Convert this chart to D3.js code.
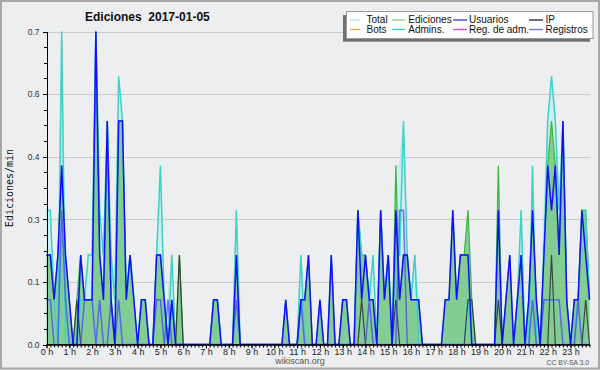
<!DOCTYPE html>
<html><head><meta charset="utf-8">
<script src="https://cdn.jsdelivr.net/npm/d3@7"></script>
<style>body{margin:0;background:#edeef0;}svg{display:block}</style>
</head><body><svg id="c" width="600" height="370"></svg>
<script>
// Edits per minute, 10-minute bins (6 per hour, 144 per day)
const hourLabels = ["0 h","1 h","2 h","3 h","4 h","5 h","6 h","7 h","8 h","9 h","10 h","11 h","12 h","13 h","14 h","15 h","16 h","17 h","18 h","19 h","20 h","21 h","22 h","23 h"];
const yTickValues = [0, 0.14, 0.28, 0.42, 0.56, 0.7];
const total = [
 0.3,0.3,0.1,0.2,0.7,0.2, 0.1,0,0.1,0.2,0.1,0.2, 0.2,0.7,0.3,0.2,0.5,0.2, 0.1,0.6,0.5,0.1,0.2,0.1,
 0,0.1,0.1,0,0,0.2, 0.4,0.1,0.1,0.2,0,0.2, 0,0,0,0,0,0, 0,0,0.1,0.1,0,0,
 0,0,0.3,0,0,0, 0,0,0,0,0,0, 0,0,0,0.1,0,0, 0,0.2,0.1,0.2,0,0,
 0.1,0,0,0.2,0,0, 0.1,0.1,0,0,0.3,0.2, 0.2,0.1,0.2,0,0.3,0.1, 0.2,0,0.4,0.4,0.5,0.2,
 0.1,0.2,0.1,0,0,0, 0,0,0,0.1,0.1,0.3, 0.1,0.2,0.2,0.3,0.1,0, 0,0,0,0,0,0.4,
 0,0.1,0.2,0,0.1,0.3, 0,0.1,0.4,0.1,0,0.3, 0.5,0.6,0.5,0.3,0.5,0.1, 0,0.1,0.1,0.3,0.3,0.1];
const ediciones = [
 0.2,0.2,0.1,0.2,0.4,0.2, 0.1,0,0.1,0.2,0.1,0.1, 0.1,0.7,0.2,0.1,0.5,0.1, 0,0.5,0.5,0.1,0.2,0.1,
 0,0.1,0.1,0,0,0.2, 0.2,0.1,0,0.1,0,0.2, 0,0,0,0,0,0, 0,0,0.1,0.1,0,0,
 0,0,0.2,0,0,0, 0,0,0,0,0,0, 0,0,0,0.1,0,0, 0,0.1,0.1,0.2,0,0,
 0.1,0,0,0.2,0,0, 0.1,0.1,0,0,0.3,0.2, 0.2,0.1,0.1,0,0.3,0.1, 0.2,0,0.4,0.1,0.2,0.2,
 0.1,0.1,0.1,0,0,0, 0,0,0,0.1,0.1,0.3, 0.1,0.2,0.2,0.3,0.1,0, 0,0,0,0,0,0.4,
 0,0.1,0.2,0,0.1,0.2, 0,0.1,0.3,0.1,0,0.2, 0.4,0.5,0.4,0.2,0.5,0.1, 0,0.1,0.1,0.3,0.3,0.1];
const usuarios = [
 0.2,0.2,0.1,0.2,0.4,0.2, 0.1,0,0,0.2,0.1,0.1, 0.1,0.7,0.2,0.1,0.5,0.1, 0,0.5,0.5,0.1,0.2,0.1,
 0,0.1,0.1,0,0,0.2, 0.2,0.1,0,0.1,0,0, 0,0,0,0,0,0, 0,0,0.1,0.1,0,0,
 0,0,0.2,0,0,0, 0,0,0,0,0,0, 0,0,0,0.1,0,0, 0,0.1,0.1,0.2,0,0,
 0.1,0,0,0.2,0,0, 0.1,0.1,0,0,0.3,0.1, 0.2,0.1,0.1,0,0.3,0.1, 0.2,0,0.3,0.1,0.2,0.2,
 0.1,0.1,0.1,0,0,0, 0,0,0,0.1,0.1,0.3, 0.1,0.2,0.2,0.2,0,0, 0,0,0,0,0,0.3,
 0,0.1,0.2,0,0.1,0.2, 0,0.1,0.3,0.1,0,0.2, 0.4,0.3,0.4,0.2,0.5,0.1, 0,0.1,0.1,0.3,0.2,0.1];
const ip = [
 0,0,0,0,0,0, 0,0,0.1,0,0,0, 0,0,0,0,0,0, 0,0,0,0,0,0,
 0,0,0,0,0,0, 0,0,0,0,0,0.2, 0,0,0,0,0,0, 0,0,0,0,0,0,
 0,0,0,0,0,0, 0,0,0,0,0,0, 0,0,0,0,0,0, 0,0,0,0,0,0,
 0,0,0,0,0,0, 0,0,0,0,0,0.1, 0,0,0,0,0,0, 0,0,0.1,0,0,0,
 0,0,0,0,0,0, 0,0,0,0,0,0, 0,0,0,0.1,0.1,0, 0,0,0,0,0,0.1,
 0,0,0,0,0,0, 0,0,0,0,0,0, 0,0.2,0,0,0,0, 0,0,0,0,0.1,0];
const admins = [
 0.3,0.3,0.1,0,0.7,0, 0,0,0,0.1,0.1,0.2, 0.2,0.7,0.3,0.2,0.5,0.2, 0.1,0.6,0.5,0.1,0.2,0.1,
 0,0.1,0.1,0,0,0.2, 0.4,0.1,0,0.2,0,0, 0,0,0,0,0,0, 0,0,0.1,0.1,0,0,
 0,0,0.3,0,0,0, 0,0,0,0,0,0, 0,0,0,0,0,0, 0,0.2,0,0,0,0,
 0,0,0,0,0,0, 0,0,0,0,0.3,0.2, 0.2,0.1,0.2,0,0.3,0.1, 0.2,0,0.2,0.2,0.5,0.2,
 0.1,0.2,0,0,0,0, 0,0,0,0,0,0, 0,0,0,0.1,0,0, 0,0,0,0,0,0,
 0,0,0,0,0.1,0.3, 0,0,0.4,0,0,0.2, 0.5,0.6,0.5,0.3,0.5,0.1, 0,0,0.1,0.3,0.3,0.1];
const registros = [
 0.1,0.1,0,0,0.3,0.1, 0,0,0,0,0.1,0.1, 0.1,0,0.1,0,0,0.1, 0,0.1,0,0,0,0,
 0,0,0,0,0,0.1, 0.1,0,0.1,0,0,0, 0,0,0,0,0,0, 0,0,0,0,0,0,
 0,0,0.1,0,0,0, 0,0,0,0,0,0, 0,0,0,0,0,0, 0,0.1,0,0,0,0,
 0,0,0,0,0,0, 0,0,0,0,0,0, 0,0.1,0,0,0,0, 0,0,0,0.3,0.3,0,
 0,0,0,0,0,0, 0,0,0,0,0,0, 0,0,0,0,0,0, 0,0,0,0,0,0,
 0,0,0,0,0,0, 0,0,0.1,0,0,0.1, 0.1,0.1,0.1,0.1,0,0, 0,0,0.1,0,0,0];
const legendItems = [
 {name:"Total", color:"#aee8e4"}, {name:"Ediciones", color:"#80cc80"},
 {name:"Usuarios", color:"#3434dc"}, {name:"IP", color:"#222222"},
 {name:"Bots", color:"#f0a040"}, {name:"Admins.", color:"#40c8d0"},
 {name:"Reg. de adm.", color:"#d040e0"}, {name:"Registros", color:"#7070e0"}];

const svg = d3.select("#c");
const W = 600, H = 370;
const x0 = 46.5, x1 = 589.5, yb = 344.5, yt = 31.5;
const x = d3.scaleLinear().domain([0, total.length - 1]).range([x0, x1]);
const y = d3.scaleLinear().domain([0, 0.7]).range([yb, yt]);
const sans = "'Liberation Sans', Arial, sans-serif";

svg.append("rect").attr("x",0).attr("y",0).attr("width",W).attr("height",H).attr("fill","#edeef0");
svg.append("rect").attr("x",1).attr("y",1).attr("width",W-2).attr("height",H-2.5)
  .attr("fill","none").attr("stroke","#a8a8a8").attr("stroke-width",2);

// grid
const grid = svg.append("g").attr("transform",`translate(${x0},0)`)
  .call(d3.axisLeft(y).tickValues(yTickValues.slice(1)).tickSize(-(x1-x0)).tickFormat(""));
grid.select(".domain").remove();
grid.selectAll("line").attr("stroke","#c9c9cb").attr("shape-rendering","crispEdges");
grid.selectAll(".tick").attr("transform", d => `translate(0,${Math.round(y(d))+0.5})`);

// series
const line = d3.line().x((d,i)=>x(i)).y(d=>y(d));
const area = d3.area().x((d,i)=>x(i)).y0(y(0)).y1(d=>y(d));
const g = svg.append("g");
g.append("path").attr("d", area(total)).attr("fill","rgba(175,238,238,0.55)");
g.append("path").attr("d", area(ediciones)).attr("fill","rgba(60,172,60,0.5)");
g.append("path").attr("d", line(total)).attr("fill","none").attr("stroke","#b4ece6").attr("stroke-width",1);
g.append("path").attr("d", line(ediciones)).attr("fill","none").attr("stroke","#3cb43c").attr("stroke-width",1.2);
g.append("path").attr("d", line(admins)).attr("fill","none").attr("stroke","#3ed2c6").attr("stroke-width",1.5);
g.append("path").attr("d", line(ip)).attr("fill","none").attr("stroke","#2c302c").attr("stroke-width",1.2).attr("opacity",0.85);
g.append("path").attr("d", line(registros)).attr("fill","none").attr("stroke","rgba(70,70,255,0.75)").attr("stroke-width",1.5);
g.append("path").attr("d", line(usuarios)).attr("fill","none").attr("stroke","#1010ff").attr("stroke-width",1.5);

// y axis
const ya = svg.append("g").attr("transform",`translate(${x0},0)`)
  .call(d3.axisLeft(y).tickValues(yTickValues).tickFormat(d3.format(".1f")).tickSize(4).tickSizeOuter(0).tickPadding(3));
ya.selectAll("text").attr("font-family",sans).attr("font-size","8.5px").attr("fill","#333");
const ym = svg.append("g").attr("transform",`translate(${x0},0)`)
  .call(d3.axisLeft(y).tickValues(d3.range(0, 0.7001, 0.035)).tickSize(3).tickSizeOuter(0).tickFormat(""));
ym.select(".domain").remove();
svg.selectAll("g line, g path.domain").attr("shape-rendering","crispEdges");

// x axis
const xm = svg.append("g").attr("transform",`translate(0,${yb})`)
  .call(d3.axisBottom(x).tickValues(d3.range(0, total.length)).tickSize(3).tickSizeOuter(0).tickFormat(""));
const xa = svg.append("g").attr("transform",`translate(0,${yb})`)
  .call(d3.axisBottom(x).tickValues(hourLabels.map((h,i)=>i*6)).tickSize(4).tickSizeOuter(0).tickPadding(0)
    .tickFormat((d,i)=>hourLabels[i]));
xa.selectAll("text").attr("font-family",sans).attr("font-size","9px").attr("fill","#222");
svg.selectAll(".domain").attr("stroke","#000");

// titles
svg.append("text").attr("x",85).attr("y",21).attr("font-family",sans).attr("font-weight","bold")
  .attr("font-size","12px").attr("fill","#111").text("Ediciones  2017-01-05").style("white-space","pre");
svg.append("text").attr("transform","translate(13,188) rotate(-90)").attr("text-anchor","middle")
  .attr("font-family","'DejaVu Sans Mono', monospace").attr("font-size","10px").attr("fill","#111").text("Ediciones/min");
svg.append("text").attr("x",300).attr("y",364).attr("text-anchor","middle").attr("font-family",sans)
  .attr("font-size","9px").attr("fill","#555").text("wikiscan.org");
svg.append("text").attr("x",589).attr("y",365).attr("text-anchor","end").attr("font-family",sans)
  .attr("font-size","6.8px").attr("fill","#555").text("CC BY-SA 3.0");

// legend
const lg = svg.append("g");
lg.append("rect").attr("x",343).attr("y",15).attr("width",247).attr("height",26.7).attr("fill","#707070");
lg.append("rect").attr("x",346.5).attr("y",11.5).attr("width",246.5).attr("height",27).attr("fill","#fff")
  .attr("stroke","#9a9a9a").attr("stroke-width",1);
const sw = [[350,360,20,366.5,23.3],[392,405,20,408.3,23.3],[453,467,20,469,23.3],[529,543,20,545.5,23.3],
            [350,360,29.5,366.5,33.3],[392,405,29.5,408.3,33.3],[453,467,29.5,469,33.3],[529,543,29.5,545.5,33.3]];
legendItems.forEach((it,i)=>{
  const p = sw[i];
  lg.append("line").attr("x1",p[0]).attr("x2",p[1]).attr("y1",p[2]).attr("y2",p[2])
    .attr("stroke",it.color).attr("stroke-width",1.3);
  lg.append("text").attr("x",p[3]).attr("y",p[4]).attr("font-family",sans).attr("font-size","10px")
    .attr("fill","#111").text(it.name);
});
</script></body></html>
